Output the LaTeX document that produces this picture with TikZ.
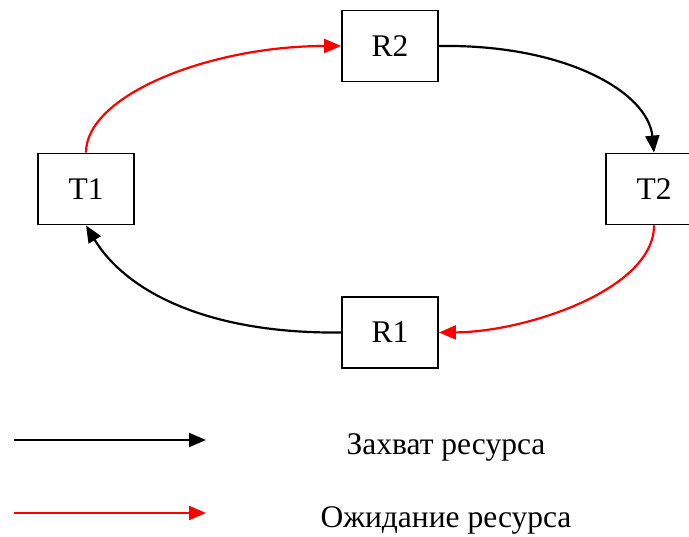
\documentclass[tikz,border=0pt]{standalone}
\usepackage{fontspec}
\setmainfont{Liberation Serif}
\usetikzlibrary{arrows.meta}
\begin{document}
\begin{tikzpicture}[x=1pt,y=-1pt,
  box/.style={draw,line width=1.8pt,minimum width=96pt,minimum height=71pt,inner sep=0pt,font=\fontsize{31.5}{36}\selectfont},
  lbl/.style={font=\fontsize{31.5}{36}\selectfont,inner sep=0pt},
  grab/.style={draw=black,line width=2.2pt,-{Triangle[length=17pt,width=14pt]}},
  wait/.style={draw=red,line width=2.2pt,-{Triangle[length=17pt,width=14pt]}}]
\useasboundingbox (0,0) rectangle (689,537);
\clip (0,0) rectangle (689,537);
\node[box] (R2) at (390,46) {R2};
\node[box] (T1) at (86,189) {T1};
\node[box] (T2) at (654,189) {T2};
\node[box] (R1) at (390,332.5) {R1};
\draw[wait] (T1.north) .. controls (86,95) and (210,46) .. (R2.west);
\draw[grab] (R2.east) .. controls (565,44) and (648,92) .. (T2.north);
\draw[wait] (T2.south) .. controls (654,290) and (525,332) .. (R1.east);
\draw[grab] (R1.west) .. controls (205,334) and (125,290) .. (T1.south);
\coordinate (a1) at (14,440);
\coordinate (b1) at (206,440);
\coordinate (a2) at (14,513);
\coordinate (b2) at (206,513);
\draw[grab] (a1) -- (b1);
\draw[wait] (a2) -- (b2);
\node[lbl] (L1) at (446,447) {Захват ресурса};
\node[lbl] (L2) at (446,520) {Ожидание ресурса};
\end{tikzpicture}
\end{document}
